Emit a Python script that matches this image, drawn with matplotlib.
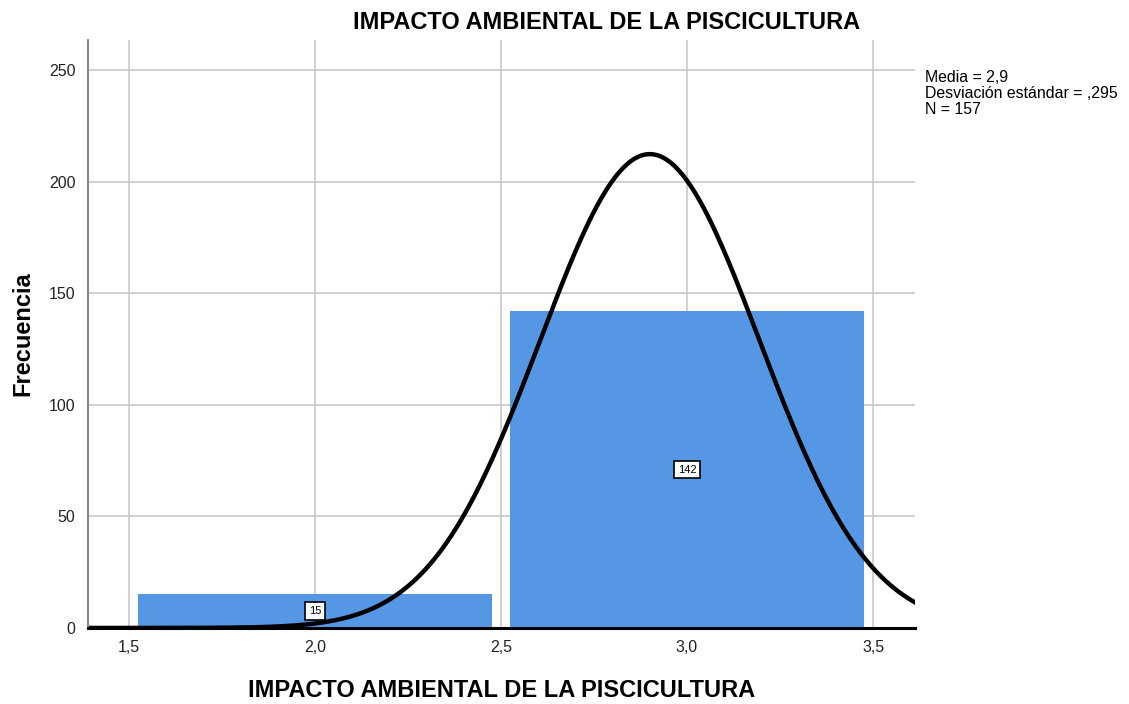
import numpy as np
import matplotlib.pyplot as plt

plt.rcParams["font.family"] = ["Liberation Sans", "DejaVu Sans"]

# histogram bins (centres) and counts
bin_centres = [2.0, 3.0]
counts = [15, 142]
bar_width = 0.95

mean = 2.9
sd = 0.295
n = 157

x_ticks = [1.5, 2.0, 2.5, 3.0, 3.5]
x_ticklabels = ["1,5", "2,0", "2,5", "3,0", "3,5"]
y_ticks = [0, 50, 100, 150, 200, 250]

title = "IMPACTO AMBIENTAL DE LA PISCICULTURA"
bar_color = "#5597e5"

fig = plt.figure(figsize=(11.29, 7.04), dpi=100)
ax = fig.add_axes([0.078, 0.108, 0.7325, 0.835])

ax.set_xlim(1.39, 3.613)
ax.set_ylim(0, 263.4)
ax.set_axisbelow(True)
ax.grid(True, color="#c8c8c8", linewidth=1.2)

ax.bar(bin_centres, counts, width=bar_width, color=bar_color, edgecolor="none")

for xc, c in zip(bin_centres, counts):
    ax.text(xc, c / 2, str(c), ha="center", va="center", fontsize=8,
            bbox=dict(boxstyle="square,pad=0.35", facecolor="white",
                      edgecolor="black", linewidth=1.2))

xs = np.linspace(1.39, 3.613, 400)
ys = n * 1.0 / (sd * np.sqrt(2 * np.pi)) * np.exp(-0.5 * ((xs - mean) / sd) ** 2)
ax.plot(xs, ys, color="black", linewidth=3.2)

ax.set_xticks(x_ticks)
ax.set_xticklabels(x_ticklabels)
ax.set_yticks(y_ticks)
ax.tick_params(length=0, labelsize=11.5, pad=9, colors="#222222")

for s in ["top", "right"]:
    ax.spines[s].set_visible(False)
ax.spines["left"].set_color("#888888")
ax.spines["left"].set_linewidth(1.5)
ax.spines["bottom"].set_color("black")
ax.spines["bottom"].set_linewidth(2.2)

fig.text(0.537, 0.968, title, fontsize=17, fontweight="bold",
         ha="center", va="center")
ax.set_xlabel(title, fontsize=17, fontweight="bold", labelpad=17)
ax.set_ylabel("Frecuencia", fontsize=17, fontweight="bold", labelpad=10.5)

fig.text(0.819, 0.900, "Media = 2,9\nDesviación estándar = ,295\nN = 157",
         fontsize=11.4, va="top", ha="left", linespacing=1.08)

fig.savefig("out.png", dpi=100)
